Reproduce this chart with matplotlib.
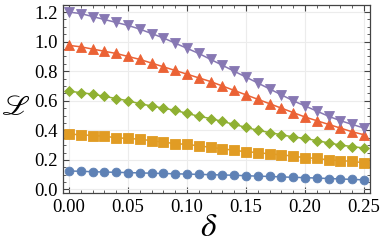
import numpy as np
import matplotlib.pyplot as plt

plt.rcParams['font.family'] = ['Liberation Serif', 'DejaVu Serif']
plt.rcParams['mathtext.fontset'] = 'stix'

delta = np.arange(26) * 0.01

blue = [0.125, 0.123, 0.12, 0.118, 0.116, 0.114, 0.112, 0.11, 0.108, 0.106, 0.104, 0.102, 0.1,
        0.098, 0.096, 0.093, 0.09, 0.088, 0.085, 0.082, 0.08, 0.077, 0.074, 0.071, 0.068, 0.065]
yellow = [0.375, 0.37, 0.365, 0.36, 0.35, 0.345, 0.34, 0.33, 0.32, 0.31, 0.305, 0.295, 0.285,
          0.275, 0.265, 0.255, 0.25, 0.24, 0.235, 0.225, 0.215, 0.21, 0.2, 0.195, 0.19, 0.18]
green = [0.665, 0.655, 0.645, 0.63, 0.615, 0.60, 0.58, 0.565, 0.55, 0.535, 0.515, 0.495, 0.48,
         0.46, 0.44, 0.42, 0.40, 0.385, 0.37, 0.355, 0.345, 0.33, 0.315, 0.30, 0.29, 0.28]
orange = [0.975, 0.965, 0.95, 0.935, 0.92, 0.90, 0.88, 0.855, 0.83, 0.805, 0.78, 0.755, 0.73,
          0.70, 0.67, 0.64, 0.61, 0.58, 0.55, 0.52, 0.49, 0.465, 0.44, 0.415, 0.39, 0.37]
purple = [1.20, 1.19, 1.17, 1.15, 1.13, 1.11, 1.085, 1.055, 1.025, 0.99, 0.955, 0.92, 0.88,
          0.84, 0.80, 0.76, 0.72, 0.68, 0.64, 0.60, 0.565, 0.53, 0.495, 0.465, 0.44, 0.415]

series = [(blue, '#5E81B5', 'o', 6.3),
          (yellow, '#E19C24', 's', 6.8),
          (green, '#8FB032', 'D', 5.6),
          (orange, '#EB6235', '^', 7.8),
          (purple, '#8778B3', 'v', 7.8)]

fig = plt.figure(figsize=(3.82, 2.45), dpi=100)
ax = fig.add_axes([63/382, 1 - 193/245, (370-63)/382, (193-4.7)/245])

for vals, c, m, ms in series:
    ax.plot(delta, vals, color=c, lw=1.1, marker=m, ms=ms, mec=c, mew=0.6)

ax.set_xlim(-0.005, 0.255)
ax.set_ylim(-0.024, 1.25)
ax.set_xticks([0, 0.05, 0.10, 0.15, 0.20, 0.25])
ax.set_xticklabels(['0.00', '0.05', '0.10', '0.15', '0.20', '0.25'])
ax.set_yticks([0, 0.2, 0.4, 0.6, 0.8, 1.0, 1.2])
ax.set_yticklabels(['0.0', '0.2', '0.4', '0.6', '0.8', '1.0', '1.2'])
ax.set_xticks(np.arange(0, 0.2501, 0.01), minor=True)
ax.set_yticks(np.arange(0, 1.2501, 0.05), minor=True)
ax.grid(True, which='major', color='#ececec', lw=0.8)
ax.set_axisbelow(True)
ax.tick_params(which='both', direction='in', top=True, right=True, color='#444444',
               labelsize=13.5, pad=4)
ax.tick_params(which='major', length=4.5, width=0.8)
ax.tick_params(which='minor', length=2.5, width=0.6)
for s in ax.spines.values():
    s.set_color('#444444')
    s.set_linewidth(0.9)

fig.text(16/382, 1 - 108/245, r'$\mathscr{L}$', fontsize=21, ha='center', va='center')
fig.text(209/382, 1 - 228/245, r'$\delta$', fontsize=24, ha='center', va='center')

fig.savefig('out.png', dpi=100)
